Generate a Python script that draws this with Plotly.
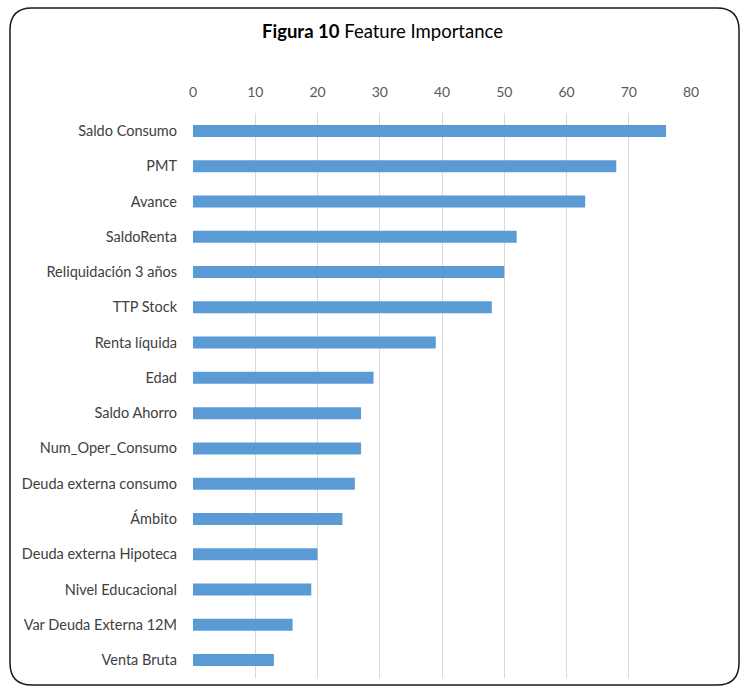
import plotly.graph_objects as go

features = ["Saldo Consumo", "PMT", "Avance", "SaldoRenta", "Reliquidación 3 años",
            "TTP Stock", "Renta líquida", "Edad", "Saldo Ahorro", "Num_Oper_Consumo",
            "Deuda externa consumo", "Ámbito", "Deuda externa Hipoteca",
            "Nivel Educacional", "Var Deuda Externa 12M", "Venta Bruta"]
importance = [76, 68, 63, 52, 50, 48, 39, 29, 27, 27, 26, 24, 20, 19, 16, 13]
x_ticks = [0, 10, 20, 30, 40, 50, 60, 70, 80]

W, H = 741, 688
FONT = "Lato"

fig = go.Figure(go.Bar(
    y=features, x=importance, orientation="h",
    marker=dict(color="#5B9BD5", line=dict(width=0)),
    width=0.34,
))

def px_x(p):
    return p / W

def px_y(p):
    return 1 - p / H

fig.update_layout(
    width=W, height=H,
    margin=dict(l=0, r=0, t=0, b=0, autoexpand=False),
    paper_bgcolor="white", plot_bgcolor="white",
    showlegend=False,
    font=dict(family=FONT, color="#595959", size=14),
    xaxis=dict(
        domain=[px_x(193), px_x(691)],
        range=[0, 80], side="top",
        tickvals=x_ticks,
        showgrid=True, gridcolor="#D9D9D9", gridwidth=1,
        zeroline=False, showline=False,
        ticks="", ticklabelstandoff=13,
        tickfont=dict(size=14, color="#595959"),
        automargin=False,
        fixedrange=True,
    ),
    yaxis=dict(
        domain=[px_y(677.6), px_y(113.4)],
        categoryorder="array", categoryarray=features,
        autorange="reversed",
        showgrid=False, zeroline=False, showline=False,
        ticks="", ticklabelstandoff=15,
        tickfont=dict(size=14.5, color="#404040"),
        automargin=False,
        fixedrange=True,
    ),
)

fig.add_annotation(
    text="<b>Figura 10</b> Feature Importance",
    x=px_x(382), y=px_y(31), xref="paper", yref="paper",
    xanchor="center", yanchor="middle", showarrow=False,
    font=dict(family=FONT, size=18.5, color="#000000"),
)

# rounded border frame
x0, y0, x1, y1, r = 10, 8, 739, 685, 22
path = (f"M {px_x(x0+r)},{px_y(y0)} L {px_x(x1-r)},{px_y(y0)} "
        f"Q {px_x(x1)},{px_y(y0)} {px_x(x1)},{px_y(y0+r)} "
        f"L {px_x(x1)},{px_y(y1-r)} Q {px_x(x1)},{px_y(y1)} {px_x(x1-r)},{px_y(y1)} "
        f"L {px_x(x0+r)},{px_y(y1)} Q {px_x(x0)},{px_y(y1)} {px_x(x0)},{px_y(y1-r)} "
        f"L {px_x(x0)},{px_y(y0+r)} Q {px_x(x0)},{px_y(y0)} {px_x(x0+r)},{px_y(y0)} Z")
fig.add_shape(type="path", path=path, xref="paper", yref="paper",
              line=dict(color="#1a1a1a", width=1.5), fillcolor="rgba(0,0,0,0)")

fig.write_html("out.html")
